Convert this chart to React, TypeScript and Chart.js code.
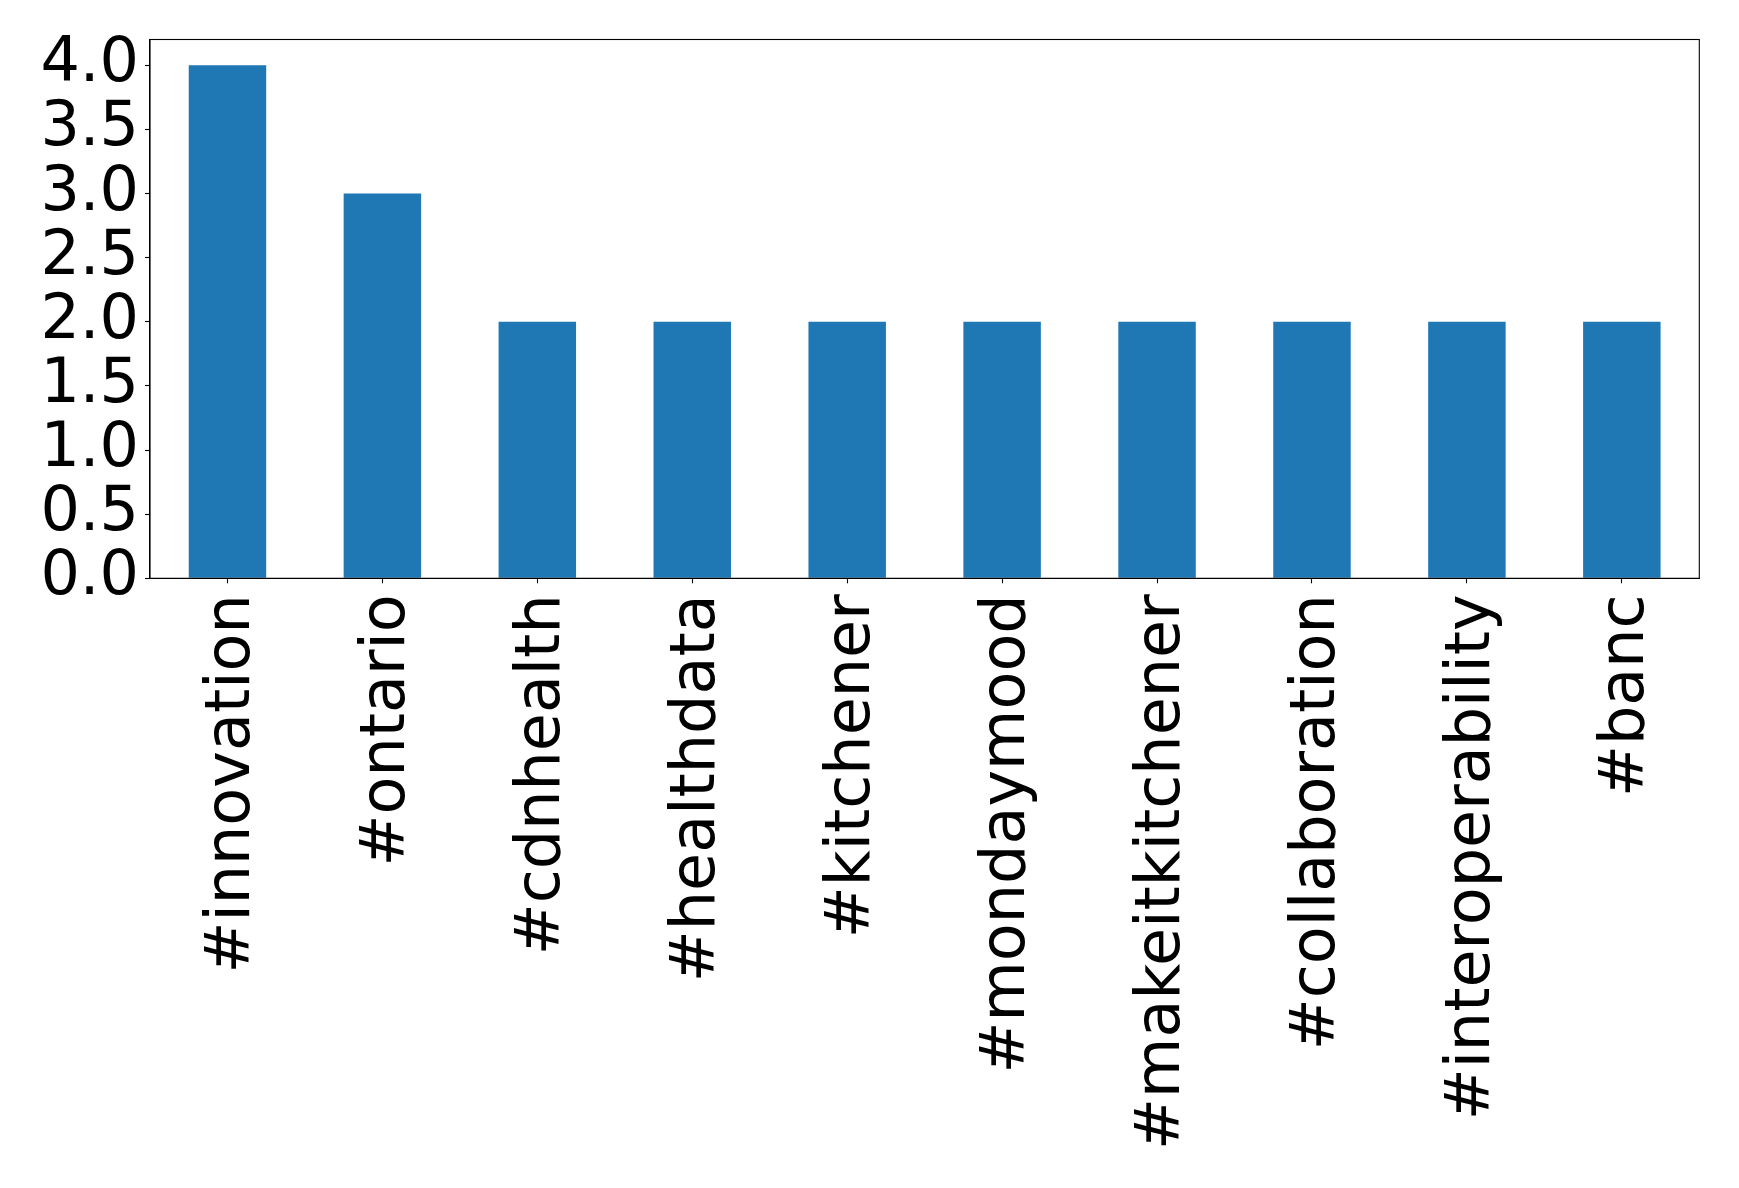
import React, { useEffect, useRef } from "react";
import { Chart, registerables } from "chart.js";

Chart.register(...registerables);

const categories = [
  "#innovation",
  "#ontario",
  "#cdnhealth",
  "#healthdata",
  "#kitchener",
  "#mondaymood",
  "#makeitkitchener",
  "#collaboration",
  "#interoperability",
  "#banc",
];
const counts = [4, 3, 2, 2, 2, 2, 2, 2, 2, 2];
const yTicks = [0, 0.5, 1.0, 1.5, 2.0, 2.5, 3.0, 3.5, 4.0];

const W = 1739;
const H = 1188;
const LEFT = 150;
const RIGHT = 1699.3;
const TOP = 39.5;
const BOTTOM = 578.3;

const frame = {
  id: "frame",
  afterDraw(chart: any) {
    const { ctx, chartArea } = chart;
    ctx.save();
    ctx.strokeStyle = "#000";
    ctx.lineWidth = 1.1;
    ctx.strokeRect(chartArea.left, chartArea.top, chartArea.right - chartArea.left, chartArea.bottom - chartArea.top);
    ctx.restore();
  },
};

export default function App() {
  const ref = useRef<HTMLCanvasElement | null>(null);
  useEffect(() => {
    document.body.style.margin = "0";
    document.body.style.overflow = "hidden";
    const font = { family: "'DejaVu Sans'", size: 62 };
    const chart = new Chart(ref.current as HTMLCanvasElement, {
      type: "bar",
      data: {
        labels: categories,
        datasets: [
          {
            data: counts,
            backgroundColor: "#1f77b4",
            barPercentage: 0.5,
            categoryPercentage: 1,
          },
        ],
      },
      options: {
        animation: false,
        responsive: false,
        maintainAspectRatio: false,
        layout: { padding: { left: 0, top: TOP, right: W - RIGHT, bottom: 0 } },
        plugins: { legend: { display: false }, tooltip: { enabled: false } },
        scales: {
          x: {
            type: "category",
            offset: true,
            grid: { offset: false, drawOnChartArea: false, drawTicks: true, tickLength: 5, color: "#000", tickWidth: 1.1 },
            border: { display: true, color: "#000", width: 1.1 },
            ticks: {
              color: "#000",
              font,
              minRotation: 90,
              maxRotation: 90,
              autoSkip: false,
              padding: 11,
              labelOffset: 5.5,
            },
            afterFit(scale: any) {
              scale.height = H - BOTTOM;
              scale.paddingLeft = 0;
              scale.paddingRight = 0;
            },
          },
          y: {
            min: 0,
            max: 4.2,
            afterBuildTicks(scale: any) {
              scale.ticks = yTicks.map((v) => ({ value: v }));
            },
            grid: { drawOnChartArea: false, drawTicks: true, tickLength: 5, color: "#000", tickWidth: 1.1 },
            border: { display: true, color: "#000", width: 1.1 },
            ticks: {
              color: "#000",
              font,
              padding: 6,
              autoSkip: false,
              callback: (v: any) => Number(v).toFixed(1),
            },
            afterFit(scale: any) {
              scale.width = LEFT;
              scale.paddingTop = 0;
              scale.paddingBottom = 0;
            },
          },
        },
      },
      plugins: [frame],
    });
    return () => chart.destroy();
  }, []);
  return (
    <div style={{ position: "absolute", left: 0, top: 0, width: W, height: H, background: "#fff" }}>
      <canvas ref={ref} width={W} height={H} style={{ width: W, height: H, display: "block" }} />
    </div>
  );
}
